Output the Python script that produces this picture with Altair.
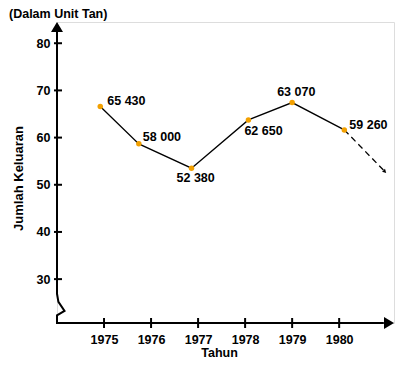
import altair as alt
import pandas as pd

# ---- data ----
years = [1975, 1976, 1977, 1978, 1979, 1980]
labels = ["65 430", "58 000", "52 380", "62 650", "63 070", "59 260"]
# drawn positions of the points (year, thousand tonnes) as they appear in the picture
point_x = [1974.92, 1975.74, 1976.86, 1978.07, 1979.00, 1980.11]
point_y = [66.57, 58.67, 53.52, 63.75, 67.42, 61.63]
# dashed trend continuation after 1980
trend_x = [1980.11, 1981.00]
trend_y = [61.63, 52.52]
y_ticks = [30, 40, 50, 60, 70, 80]
# axis outline with the break symbol near the bottom of the y axis
axis_x = [1974.0, 1974.0, 1974.03, 1974.16, 1974.0, 1974.0, 1980.95]
axis_y = [82.4, 26.89, 25.19, 23.28, 22.33, 20.7, 20.7]
unit_note = ["(Dalam Unit Tan)"]

X_MIN, X_MAX = 1974.0, 1981.166
Y_MIN, Y_MAX = 20.7, 84.5

FONT = "Liberation Sans"
ORANGE = "#F2A000"

xs = alt.Scale(domain=[X_MIN, X_MAX], nice=False, zero=False)
ys = alt.Scale(domain=[Y_MIN, Y_MAX], nice=False, zero=False)

xax = alt.Axis(values=years, format="d", domain=False, ticks=False, grid=False,
               labelPadding=10, labelFont=FONT, labelFontSize=12.5, labelFontWeight="bold",
               labelColor="black", title="Tahun", titleFont=FONT, titleFontSize=12.5,
               titleFontWeight="bold", titleColor="black", titleX=162, titleY=29,
               titleBaseline="middle", titleAlign="center")
yax = alt.Axis(values=y_ticks, format="d", domain=False, ticks=False, grid=False,
               labelPadding=7, labelFont=FONT, labelFontSize=12.5, labelFontWeight="bold",
               labelColor="black", title="Jumlah Keluaran", titleFont=FONT, titleFontSize=13,
               titleFontWeight="bold", titleColor="black", titleX=-39, titleY=156,
               titleAngle=270, titleBaseline="middle", titleAlign="center")


def X(field):
    return alt.X(field, type="quantitative", scale=xs, axis=xax)


def Y(field):
    return alt.Y(field, type="quantitative", scale=ys, axis=yax)


pts = pd.DataFrame({"x": point_x, "y": point_y, "label": labels, "i": list(range(len(labels)))})
trend = pd.DataFrame({"x": trend_x, "y": trend_y})
axis_df = pd.DataFrame({"x": axis_x, "y": axis_y, "o": list(range(len(axis_x)))})
ytick_df = pd.DataFrame({"x": [X_MIN] * len(y_ticks), "y": y_ticks})
xtick_df = pd.DataFrame({"x": years, "y": [Y_MIN] * len(years)})
yarrow = pd.DataFrame({"x": [X_MIN], "y": [Y_MAX]})
xarrow = pd.DataFrame({"x": [X_MAX], "y": [Y_MIN]})
tarrow = pd.DataFrame({"x": [trend_x[-1]], "y": [trend_y[-1]]})
note = pd.DataFrame({"t": unit_note})

axis_line = alt.Chart(axis_df).mark_line(color="black", strokeWidth=2, strokeJoin="miter",
                                         strokeCap="butt").encode(
    x=X("x"), y=Y("y"), order="o:Q")

yticks = alt.Chart(ytick_df).mark_tick(orient="horizontal", size=8, thickness=2,
                                       color="black", xOffset=1, opacity=1).encode(
    x=X("x"), y=Y("y"))
xticks = alt.Chart(xtick_df).mark_tick(orient="vertical", size=10, thickness=2,
                                       color="black", opacity=1).encode(
    x=X("x"), y=Y("y"))

y_arrow = alt.Chart(yarrow).mark_point(shape="M0,0L0.6,1L-0.6,1Z", size=400, filled=True,
                                       color="black", opacity=1).encode(x=X("x"), y=Y("y"))
x_arrow = alt.Chart(xarrow).mark_point(shape="M0,0L-1,-0.6L-1,0.6Z", size=400, filled=True,
                                       color="black", opacity=1).encode(x=X("x"), y=Y("y"))

line = alt.Chart(pts).mark_line(color="black", strokeWidth=1.3).encode(
    x=X("x"), y=Y("y"), order="i:Q")
dashed = alt.Chart(trend).mark_line(color="black", strokeWidth=1.3, strokeDash=[6, 4]).encode(
    x=X("x"), y=Y("y"))
t_arrow = alt.Chart(tarrow).mark_point(shape="M0,0L-1,-0.55L-1,0.55Z", size=56, angle=45,
                                       filled=True, color="black", opacity=1).encode(
    x=X("x"), y=Y("y"))

dots = alt.Chart(pts).mark_point(filled=True, size=30, color=ORANGE, opacity=1).encode(
    x=X("x"), y=Y("y"))

# label offsets relative to their point (styling only)
offsets = [(7, -6), (4, -7), (-15, 10), (-4, 11), (-15, -11), (5, -5)]
label_layers = []
for i, (dx, dy) in enumerate(offsets):
    label_layers.append(
        alt.Chart(pts).transform_filter(alt.datum.i == i).mark_text(
            align="left", baseline="middle", dx=dx, dy=dy, font=FONT, fontSize=12.5,
            fontWeight="bold", color="black").encode(x=X("x"), y=Y("y"), text="label:N"))

note_text = alt.Chart(note).mark_text(align="left", baseline="middle", font=FONT,
                                      fontSize=12.5, fontWeight="bold", color="black").encode(
    x=alt.value(-48), y=alt.value(-8), text="t:N")

chart = alt.layer(axis_line, yticks, xticks, y_arrow, x_arrow, line, dashed, t_arrow, dots,
                  *label_layers, note_text).properties(
    width=337, height=301,
    autosize=alt.AutoSizeParams(type="none"),
    padding={"left": 49, "top": 14, "right": 1, "bottom": 35},
).configure_view(stroke=None).configure(background="white")

chart.save("out.html", embed_options={"renderer": "svg", "actions": False})
